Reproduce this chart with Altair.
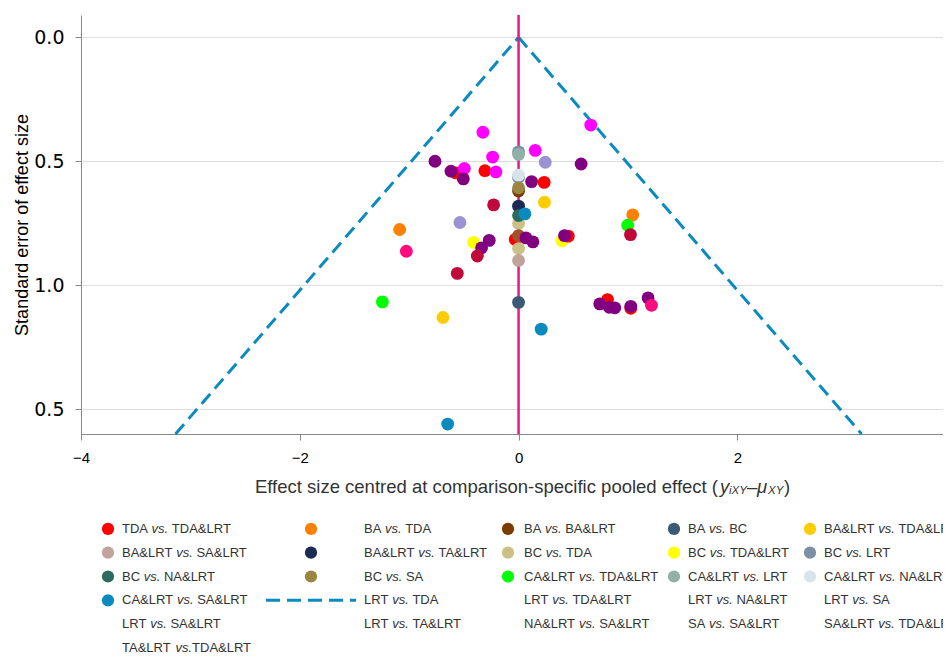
import altair as alt
import pandas as pd

# ---------------- data ----------------
comparisons = [
    "TDA vs. TDA&LRT", "BA&LRT vs. SA&LRT", "BC vs. NA&LRT", "CA&LRT vs. SA&LRT",
    "BA vs. TDA", "BA&LRT vs. TA&LRT", "BC vs. SA",
    "BA vs. BA&LRT", "BC vs. TDA", "CA&LRT vs. TDA&LRT",
    "BA vs. BC", "BC vs. TDA&LRT", "CA&LRT vs. LRT",
    "BA&LRT vs. TDA&LRT", "BC vs. LRT", "CA&LRT vs. NA&LRT",
    "LRT vs. TDA", "LRT vs. SA&LRT", "LRT vs. TA&LRT", "TA&LRT vs.TDA&LRT",
    "NA&LRT vs. SA&LRT", "LRT vs. TDA&LRT",
]
palette = [
    "#ff0000", "#c0a39b", "#2e6b5e", "#0a8abf",
    "#ff8000", "#1c2b55", "#9c8540",
    "#7a3d00", "#cbc187", "#00ff00",
    "#3a5a78", "#ffff00", "#93b0a6",
    "#ffcc00", "#7b8fa6", "#d8e4ea",
    "#800080", "#ff00ff", "#c0083a", "#ff0a7f",
    "#9b92d3", "#a0522d",
]

# study points (drawing order matters for overlaps)
pt_group = [
    "BC vs. TDA&LRT", "BC vs. TDA&LRT",
    "BA vs. TDA", "BA vs. TDA",
    "TDA vs. TDA&LRT", "TDA vs. TDA&LRT", "TDA vs. TDA&LRT", "TDA vs. TDA&LRT",
    "TDA vs. TDA&LRT", "TDA vs. TDA&LRT", "TDA vs. TDA&LRT",
    "LRT vs. SA&LRT", "LRT vs. SA&LRT", "LRT vs. SA&LRT", "LRT vs. SA&LRT",
    "LRT vs. SA&LRT", "LRT vs. SA&LRT",
    "NA&LRT vs. SA&LRT", "NA&LRT vs. SA&LRT",
    "CA&LRT vs. TDA&LRT", "CA&LRT vs. TDA&LRT",
    "BA&LRT vs. TDA&LRT", "BA&LRT vs. TDA&LRT",
    "BC vs. LRT", "CA&LRT vs. LRT", "BC vs. LRT", "CA&LRT vs. NA&LRT",
    "BA vs. BA&LRT", "BC vs. SA", "BA&LRT vs. TA&LRT", "BC vs. TDA",
    "BC vs. NA&LRT", "LRT vs. TDA&LRT", "BC vs. TDA", "BA&LRT vs. SA&LRT", "BA vs. BC",
    "CA&LRT vs. SA&LRT", "CA&LRT vs. SA&LRT", "CA&LRT vs. SA&LRT",
    "LRT vs. TDA", "LRT vs. TDA", "LRT vs. TDA", "LRT vs. TDA", "LRT vs. TDA",
    "LRT vs. TDA", "LRT vs. TDA", "LRT vs. TDA", "LRT vs. TDA", "LRT vs. TDA",
    "LRT vs. TDA", "LRT vs. TDA", "LRT vs. TDA", "LRT vs. TDA", "LRT vs. TDA",
    "LRT vs. TA&LRT", "LRT vs. TA&LRT", "LRT vs. TA&LRT", "LRT vs. TA&LRT",
    "TA&LRT vs.TDA&LRT", "TA&LRT vs.TDA&LRT",
]
pt_x = [
    -0.411, 0.396,
    -1.087, 1.044,
    -0.573, -0.308, 0.234, 0.454, 0.813, 1.026, -0.03,
    -0.326, 0.660, -0.496, -0.237, -0.207, 0.152,
    0.244, -0.536,
    0.998, -1.245,
    0.237, -0.691,
    0.0, 0.0, 0.0, 0.0,
    0.0, 0.0, 0.0, 0.0,
    0.0, 0.0, 0.0, 0.0, 0.0,
    0.058, 0.207, -0.648,
    -0.764, -0.618, -0.505, 0.119, 0.572,
    -0.268, -0.338, 0.067, 0.131, 0.420,
    0.742, 0.830, 0.880, 1.026, 1.184,
    -0.228, 1.023, -0.377, -0.560,
    -1.026, 1.215,
]
pt_se = [
    0.827, 0.820,
    0.775, 0.716,
    0.547, 0.538, 0.585, 0.802, 1.058, 1.093, 0.815,
    0.383, 0.354, 0.529, 0.483, 0.543, 0.456,
    0.504, 0.747,
    0.758, 1.067,
    0.665, 1.130,
    0.462, 0.472, 0.565, 0.556,
    0.620, 0.607, 0.681, 0.751,
    0.719, 0.800, 0.852, 0.900, 1.069,
    0.712, 1.177, 1.560,
    0.500, 0.540, 0.571, 0.582, 0.511,
    0.819, 0.849, 0.809, 0.825, 0.800,
    1.075, 1.089, 1.091, 1.085, 1.051,
    0.676, 0.796, 0.882, 0.952,
    0.863, 1.081,
]

# pseudo 95% confidence funnel end points
funnel_se = [0.0, 1.6, 0.0, 1.6]
funnel_x = [0.0, -3.136, 0.0, 3.136]
funnel_side = ["left", "left", "right", "right"]

x_ticks = [-4, -2, 0, 2]
y_ticks = [0.0, 0.5, 1.0, 1.5]

# legend layout (as drawn in the reference)
leg_sym_group = [
    "TDA vs. TDA&LRT", "BA&LRT vs. SA&LRT", "BC vs. NA&LRT", "CA&LRT vs. SA&LRT",
    "BA vs. TDA", "BA&LRT vs. TA&LRT", "BC vs. SA",
    "BA vs. BA&LRT", "BC vs. TDA", "CA&LRT vs. TDA&LRT",
    "BA vs. BC", "BC vs. TDA&LRT", "CA&LRT vs. LRT",
    "BA&LRT vs. TDA&LRT", "BC vs. LRT", "CA&LRT vs. NA&LRT",
]
leg_sym_col = [0, 0, 0, 0, 1, 1, 1, 2, 2, 2, 3, 3, 3, 4, 4, 4]
leg_sym_row = [1, 2, 3, 4, 1, 2, 3, 1, 2, 3, 1, 2, 3, 1, 2, 3]

leg_labels = [
    "TDA vs. TDA&LRT", "BA&LRT vs. SA&LRT", "BC vs. NA&LRT", "CA&LRT vs. SA&LRT",
    "LRT vs. SA&LRT", "TA&LRT vs.TDA&LRT",
    "BA vs. TDA", "BA&LRT vs. TA&LRT", "BC vs. SA", "LRT vs. TDA", "LRT vs. TA&LRT",
    "BA vs. BA&LRT", "BC vs. TDA", "CA&LRT vs. TDA&LRT", "LRT vs. TDA&LRT", "NA&LRT vs. SA&LRT",
    "BA vs. BC", "BC vs. TDA&LRT", "CA&LRT vs. LRT", "LRT vs. NA&LRT", "SA vs. SA&LRT",
    "BA&LRT vs. TDA&LRT", "BC vs. LRT", "CA&LRT vs. NA&LRT", "LRT vs. SA", "SA&LRT vs. TDA&LRT",
]
leg_label_col = [0] * 6 + [1] * 5 + [2] * 5 + [3] * 5 + [4] * 5
leg_label_row = [1, 2, 3, 4, 5, 6, 1, 2, 3, 4, 5, 1, 2, 3, 4, 5, 1, 2, 3, 4, 5, 1, 2, 3, 4, 5]

# ---------------- layout / style ----------------
W, H = 862, 419
FONT = "Liberation Sans"
TXT = "#333333"
BLUE = "#0a8abf"
PINK = "#ee1682"
LEG_FS = 13
NOVIEW = alt.ViewBackground(stroke="transparent", strokeWidth=0)

sym_slot = [27, 230, 427, 593, 729]
lab_slot = [41, 283, 443, 607, 743]

ARIAL = {' ': 278, '&': 667, '.': 278, 'A': 667, 'B': 667, 'C': 722, 'D': 722,
         'L': 556, 'N': 722, 'R': 722, 'S': 667, 'T': 611, 'v': 500, 's': 500}


def text_w(s, fs):
    return sum(ARIAL.get(c, 556) for c in s) * fs / 1000.0


pts = pd.DataFrame({"x": pt_x, "se": pt_se, "group": pt_group, "order": range(len(pt_x))})
fun = pd.DataFrame({"x": funnel_x, "se": funnel_se, "side": funnel_side})

xscale = alt.Scale(domain=[-4, 3.88], nice=False, zero=False)
yscale = alt.Scale(domain=[-0.09, 1.6], reverse=True, nice=False, zero=False)
cscale = alt.Scale(domain=comparisons, range=palette)

xaxis = alt.Axis(values=x_ticks, format="d", title=None, grid=False, labelFontSize=15,
                 labelPadding=10, tickSize=6, labelFont=FONT, labelFlush=False)
yaxis = alt.Axis(values=y_ticks, title="Standard error of effect size",
                 labelExpr="datum.value == 1.5 ? '0.5' : format(datum.value, '.1f')",
                 grid=True, labelFontSize=19, labelFont="DejaVu Sans", titleFont=FONT,
                 titleFontSize=18, titleFontWeight="normal", titlePadding=2, tickSize=6,
                 labelPadding=11, labelFlush=False)

funnel = alt.Chart(fun).mark_line(color=BLUE, strokeWidth=3, strokeDash=[13, 7]).encode(
    x=alt.X("x:Q", scale=xscale, axis=xaxis),
    y=alt.Y("se:Q", scale=yscale, axis=yaxis),
    detail="side:N",
)

vline = alt.Chart(pd.DataFrame({"x": [0.0]})).mark_rule(color=PINK, strokeWidth=2.5).encode(
    x=alt.X("x:Q", scale=xscale)
)

points = alt.Chart(pts).mark_circle(size=165, opacity=1).encode(
    x=alt.X("x:Q", scale=xscale),
    y=alt.Y("se:Q", scale=yscale),
    color=alt.Color("group:N", scale=cscale, legend=None),
    order="order:Q",
)

# x-axis title with italic symbols and subscripts
TY = H + 53
TFS, SFS = 18.5, 11.5
title_parts = [
    ("Effect size centred at comparison-specific pooled effect (", 637, "right", "normal", TFS, 0),
    ("y", 639, "left", "italic", TFS, 0),
    ("iXY", 648, "left", "italic", SFS, 4),
    ("\u2013", 666, "left", "normal", TFS, 0),
    ("\u03bc", 676, "left", "italic", TFS, 0),
    ("XY", 687, "left", "italic", SFS, 4),
    (")", 703, "left", "normal", TFS, 0),
]
title_layers = []
for txt, px, al, fst, fs, dy in title_parts:
    title_layers.append(
        alt.Chart(pd.DataFrame({"t": [txt]})).mark_text(
            align=al, baseline="middle", font=FONT, fontSize=fs, fontStyle=fst,
            color=TXT, dy=dy
        ).encode(x=alt.value(px), y=alt.value(TY), text="t:N")
    )

main = alt.layer(funnel, vline, points, *title_layers).properties(
    width=W, height=H, view=NOVIEW)

# ---------------- custom legend ----------------
sym_df = pd.DataFrame({
    "lx": [sym_slot[c] for c in leg_sym_col],
    "row": leg_sym_row,
    "group": leg_sym_group,
})

pre_t, vs_t, post_t, pre_x, vs_x, post_x, rows = [], [], [], [], [], [], []
for lab, c, r in zip(leg_labels, leg_label_col, leg_label_row):
    i = lab.index("vs.")
    a, b = lab[:i], lab[i + 3:]
    lead = len(b) - len(b.lstrip(" "))
    x0 = lab_slot[c]
    pre_t.append(a.rstrip(" "))
    vs_t.append("vs.")
    post_t.append(b.lstrip(" "))
    pre_x.append(x0)
    vs_x.append(x0 + text_w(a, LEG_FS))
    post_x.append(x0 + text_w(a, LEG_FS) + text_w("vs." + " " * lead, LEG_FS))
    rows.append(r)

lab_df = pd.DataFrame({"pre": pre_t, "vs": vs_t, "post": post_t,
                       "px": pre_x, "vx": vs_x, "qx": post_x, "row": rows})

ROW = 23.8
LW = W
LH = 5.8 * ROW
lx_scale = alt.Scale(domain=[0, LW], nice=False, zero=False)
ly_scale = alt.Scale(domain=[0.5, 6.3], reverse=True, nice=False, zero=False)

leg_sym = alt.Chart(sym_df).mark_circle(size=150, opacity=1).encode(
    x=alt.X("lx:Q", scale=lx_scale, axis=None),
    y=alt.Y("row:Q", scale=ly_scale, axis=None),
    color=alt.Color("group:N", scale=cscale, legend=None),
)

base_lab = alt.Chart(lab_df)
common = dict(align="left", baseline="middle", font=FONT, fontSize=LEG_FS, color=TXT, clip=True)
lab_pre = base_lab.mark_text(**common).encode(
    x=alt.X("px:Q", scale=lx_scale, axis=None), y=alt.Y("row:Q", scale=ly_scale, axis=None),
    text="pre:N")
lab_vs = base_lab.mark_text(fontStyle="italic", **common).encode(
    x=alt.X("vx:Q", scale=lx_scale, axis=None), y=alt.Y("row:Q", scale=ly_scale, axis=None),
    text="vs:N")
lab_post = base_lab.mark_text(**common).encode(
    x=alt.X("qx:Q", scale=lx_scale, axis=None), y=alt.Y("row:Q", scale=ly_scale, axis=None),
    text="post:N")

leg_line = alt.Chart(pd.DataFrame({"x1": [185], "x2": [275], "row": [4]})).mark_rule(
    color=BLUE, strokeWidth=3, strokeDash=[14, 7]).encode(
    x=alt.X("x1:Q", scale=lx_scale, axis=None), x2="x2:Q",
    y=alt.Y("row:Q", scale=ly_scale, axis=None))

legend = alt.layer(leg_line, leg_sym, lab_pre, lab_vs, lab_post).properties(
    width=LW, height=LH, view=NOVIEW)

chart = alt.vconcat(main, legend, spacing=20).properties(
    padding={"left": 5, "top": 5, "right": 0, "bottom": 0}
).configure_view(stroke="transparent", strokeWidth=0).configure_axis(
    domainColor="#3a3a3a", tickColor="#3a3a3a", labelColor=TXT, titleColor=TXT,
    gridColor="#e9f1f3", gridWidth=2, domainWidth=1.2, tickWidth=1.2,
).configure(font=FONT)

chart.save("out.html", embed_options={"renderer": "svg", "actions": False})
